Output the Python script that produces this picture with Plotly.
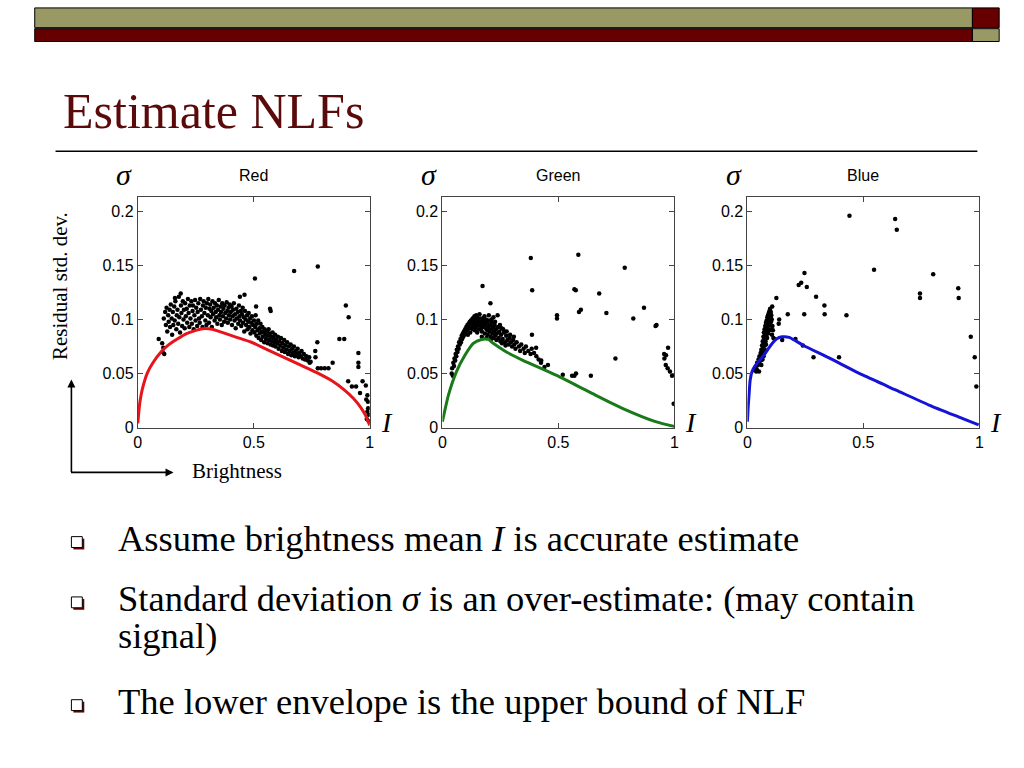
import plotly.graph_objects as go

W, H = 1024, 768

# ---------------- data ----------------
channels = ["Red", "Green", "Blue"]
curve_colors = ["#E8141B", "#1A7A1A", "#1414D8"]
x_ticks = [0, 0.5, 1]
x_tick_text = ["0", "0.5", "1"]
y_ticks = [0, 0.05, 0.1, 0.15, 0.2]
y_tick_text = ["0", "0.05", "0.1", "0.15", "0.2"]

red_curve_x = [0, 0.005, 0.01, 0.02, 0.04, 0.065, 0.1, 0.135, 0.17, 0.21, 0.25, 0.28,
               0.32, 0.35, 0.42, 0.49, 0.56, 0.63, 0.7, 0.78, 0.84, 0.89, 0.93, 0.96, 0.98, 1.0]
red_curve_y = [0.004, 0.016, 0.025, 0.036, 0.05, 0.06, 0.07, 0.077, 0.082, 0.087, 0.09, 0.0915,
               0.091, 0.089, 0.084, 0.079, 0.072, 0.065, 0.058, 0.05, 0.043, 0.035, 0.027, 0.019, 0.012, 0.002]

green_curve_x = [0, 0.026, 0.061, 0.097, 0.133, 0.169, 0.197, 0.219, 0.276, 0.347, 0.49,
                 0.633, 0.776, 0.919, 1.0]
green_curve_y = [0.0055, 0.030, 0.052, 0.067, 0.078, 0.0816, 0.0816, 0.078, 0.070, 0.0623, 0.0485,
                 0.033, 0.0178, 0.0055, 0.001]

blue_curve_x = [0, 0.003, 0.007, 0.012, 0.02, 0.036, 0.071, 0.1, 0.125, 0.15, 0.18, 0.21, 0.242, 0.356,
                0.499, 0.641, 0.783, 0.926, 0.997]
blue_curve_y = [0.0055, 0.018, 0.030, 0.044, 0.052, 0.058, 0.067, 0.076, 0.082, 0.084, 0.0835, 0.080,
                0.076, 0.064, 0.0485, 0.0347, 0.0209, 0.0086, 0.0025]

red_dots = [
    (0.112, 0.101), (0.118, 0.107), (0.121, 0.095), (0.124, 0.111), (0.127, 0.089), (0.131, 0.104),
    (0.133, 0.098), (0.137, 0.109), (0.139, 0.093), (0.142, 0.114), (0.146, 0.101), (0.148, 0.086),
    (0.151, 0.107), (0.153, 0.095), (0.157, 0.112), (0.159, 0.099), (0.162, 0.117), (0.166, 0.091),
    (0.168, 0.104), (0.171, 0.109), (0.174, 0.096), (0.177, 0.121), (0.179, 0.102), (0.182, 0.088),
    (0.186, 0.113), (0.188, 0.106), (0.191, 0.094), (0.194, 0.117), (0.197, 0.100), (0.199, 0.109),
    (0.202, 0.092), (0.204, 0.115), (0.207, 0.103), (0.211, 0.110), (0.213, 0.097), (0.216, 0.119),
    (0.219, 0.106), (0.222, 0.093), (0.224, 0.113), (0.227, 0.101), (0.231, 0.117), (0.233, 0.096),
    (0.236, 0.108), (0.238, 0.113), (0.241, 0.091), (0.244, 0.104), (0.247, 0.118), (0.249, 0.099),
    (0.252, 0.111), (0.256, 0.094), (0.258, 0.107), (0.261, 0.115), (0.264, 0.101), (0.267, 0.097),
    (0.269, 0.119), (0.272, 0.109), (0.276, 0.103), (0.279, 0.093), (0.281, 0.113), (0.284, 0.117),
    (0.287, 0.106), (0.291, 0.099), (0.293, 0.111), (0.296, 0.095), (0.298, 0.115),
    (0.302, 0.104), (0.304, 0.119), (0.307, 0.097), (0.309, 0.110), (0.312, 0.114), (0.314, 0.102),
    (0.317, 0.108), (0.319, 0.093), (0.322, 0.117), (0.324, 0.105), (0.327, 0.111), (0.331, 0.099),
    (0.333, 0.115), (0.336, 0.107), (0.338, 0.102), (0.341, 0.113), (0.343, 0.096), (0.346, 0.109),
    (0.349, 0.118), (0.352, 0.104), (0.354, 0.100), (0.357, 0.112), (0.359, 0.107), (0.362, 0.095),
    (0.364, 0.115), (0.367, 0.103), (0.369, 0.110), (0.372, 0.098), (0.374, 0.113), (0.377, 0.106),
    (0.381, 0.101), (0.383, 0.116), (0.386, 0.108), (0.388, 0.097), (0.391, 0.111), (0.393, 0.104),
    (0.396, 0.114), (0.398, 0.100),
    (0.401, 0.107), (0.404, 0.112), (0.406, 0.095), (0.409, 0.103), (0.411, 0.109), (0.414, 0.115),
    (0.417, 0.099), (0.419, 0.105), (0.422, 0.092), (0.425, 0.110), (0.427, 0.101), (0.431, 0.107),
    (0.433, 0.096), (0.436, 0.113), (0.438, 0.103), (0.441, 0.099), (0.444, 0.108), (0.446, 0.094),
    (0.449, 0.105), (0.452, 0.111), (0.454, 0.097), (0.457, 0.102), (0.459, 0.089), (0.462, 0.108),
    (0.465, 0.100), (0.467, 0.095), (0.471, 0.104), (0.473, 0.091), (0.476, 0.098), (0.478, 0.106),
    (0.481, 0.093), (0.484, 0.101), (0.486, 0.087), (0.489, 0.097), (0.492, 0.103), (0.494, 0.090),
    (0.497, 0.095),
    (0.501, 0.099), (0.503, 0.088), (0.506, 0.093), (0.508, 0.104), (0.511, 0.085), (0.513, 0.096),
    (0.516, 0.090), (0.519, 0.099), (0.521, 0.083), (0.524, 0.092), (0.526, 0.087), (0.529, 0.096),
    (0.532, 0.081), (0.534, 0.089), (0.537, 0.093), (0.539, 0.084), (0.542, 0.088), (0.545, 0.079),
    (0.547, 0.091), (0.551, 0.086), (0.553, 0.082), (0.556, 0.089), (0.559, 0.078), (0.561, 0.085),
    (0.564, 0.091), (0.567, 0.081), (0.569, 0.087), (0.572, 0.077), (0.575, 0.084), (0.578, 0.080),
    (0.581, 0.088), (0.583, 0.076), (0.586, 0.083), (0.589, 0.079), (0.592, 0.086), (0.594, 0.075),
    (0.597, 0.081),
    (0.601, 0.078), (0.604, 0.084), (0.607, 0.073), (0.611, 0.080), (0.614, 0.076), (0.617, 0.083),
    (0.621, 0.071), (0.624, 0.078), (0.627, 0.074), (0.631, 0.081), (0.634, 0.070), (0.637, 0.076),
    (0.641, 0.072), (0.644, 0.079), (0.648, 0.068), (0.651, 0.075), (0.655, 0.071), (0.659, 0.077),
    (0.662, 0.067), (0.666, 0.073), (0.669, 0.069), (0.673, 0.075), (0.677, 0.066), (0.681, 0.071),
    (0.684, 0.068), (0.689, 0.073), (0.693, 0.065), (0.697, 0.069), (0.702, 0.066), (0.706, 0.071),
    (0.711, 0.064), (0.716, 0.068), (0.721, 0.063), (0.727, 0.066), (0.733, 0.062), (0.739, 0.065),
    (0.745, 0.061),
    (0.09, 0.082), (0.105, 0.078), (0.107, 0.070), (0.11, 0.074), (0.114, 0.068),
    (0.51, 0.112), (0.57, 0.110), (0.573, 0.108), (0.44, 0.121), (0.46, 0.123), (0.185, 0.124),
    (0.16, 0.120), (0.505, 0.138), (0.674, 0.145), (0.776, 0.149),
    (0.897, 0.113), (0.909, 0.102), (0.869, 0.082), (0.89, 0.082), (0.774, 0.079), (0.765, 0.071),
    (0.766, 0.065), (0.776, 0.055), (0.79, 0.055), (0.806, 0.055), (0.822, 0.055), (0.84, 0.060),
    (0.741, 0.060), (0.907, 0.043), (0.923, 0.038), (0.941, 0.038), (0.958, 0.032), (0.951, 0.069),
    (0.951, 0.060), (0.951, 0.056), (0.969, 0.043), (0.983, 0.039), (0.99, 0.030), (0.992, 0.024),
    (0.993, 0.018), (0.995, 0.012), (0.996, 0.006), (0.99, 0.015), (0.987, 0.008), (0.985, 0.026),
]

green_dots = [
    (0.04, 0.050), (0.042, 0.055), (0.045, 0.048), (0.047, 0.060), (0.05, 0.057), (0.052, 0.064),
    (0.055, 0.062), (0.057, 0.068), (0.06, 0.066), (0.062, 0.072), (0.065, 0.070), (0.067, 0.075),
    (0.07, 0.073), (0.072, 0.079), (0.075, 0.077), (0.078, 0.082), (0.08, 0.079), (0.083, 0.085),
    (0.085, 0.082), (0.088, 0.087), (0.09, 0.084), (0.093, 0.089), (0.095, 0.086), (0.098, 0.091),
    (0.1, 0.088), (0.103, 0.093), (0.105, 0.090), (0.108, 0.095), (0.11, 0.091), (0.113, 0.096),
    (0.115, 0.093), (0.118, 0.098), (0.12, 0.094), (0.123, 0.099), (0.125, 0.092), (0.128, 0.097),
    (0.13, 0.101), (0.133, 0.094), (0.135, 0.099), (0.138, 0.103), (0.14, 0.096), (0.143, 0.100),
    (0.145, 0.093), (0.148, 0.098), (0.15, 0.102), (0.153, 0.095), (0.155, 0.099), (0.158, 0.091),
    (0.16, 0.097), (0.163, 0.101), (0.165, 0.094), (0.168, 0.099), (0.17, 0.089), (0.173, 0.096),
    (0.175, 0.101), (0.178, 0.093), (0.18, 0.098), (0.183, 0.087), (0.185, 0.095), (0.188, 0.100),
    (0.19, 0.091), (0.193, 0.097), (0.195, 0.086), (0.198, 0.093), (0.2, 0.099), (0.203, 0.089),
    (0.205, 0.095), (0.208, 0.084), (0.21, 0.091), (0.213, 0.097), (0.215, 0.087), (0.218, 0.093),
    (0.22, 0.083), (0.223, 0.089), (0.225, 0.095), (0.228, 0.085), (0.23, 0.091), (0.233, 0.081),
    (0.235, 0.087), (0.238, 0.104), (0.24, 0.093), (0.243, 0.083), (0.245, 0.089), (0.25, 0.080),
    (0.253, 0.086), (0.255, 0.092), (0.26, 0.082), (0.265, 0.088), (0.27, 0.079), (0.275, 0.085),
    (0.28, 0.081), (0.285, 0.077), (0.29, 0.083), (0.295, 0.079), (0.3, 0.075), (0.305, 0.081),
    (0.31, 0.077), (0.315, 0.073), (0.32, 0.079), (0.33, 0.075), (0.335, 0.071), (0.34, 0.077),
    (0.35, 0.073), (0.355, 0.069), (0.36, 0.075), (0.37, 0.071), (0.38, 0.068), (0.385, 0.073),
    (0.395, 0.069), (0.405, 0.066), (0.415, 0.063), (0.425, 0.060), (0.44, 0.056), (0.455, 0.058),
    (0.15, 0.088), (0.17, 0.084), (0.19, 0.083), (0.21, 0.082), (0.16, 0.105), (0.2, 0.104),
    (0.22, 0.102), (0.14, 0.090), (0.12, 0.088), (0.11, 0.086), (0.132, 0.091), (0.146, 0.104),
    (0.167, 0.092), (0.181, 0.103), (0.196, 0.090), (0.212, 0.100), (0.227, 0.098), (0.248, 0.095),
    (0.262, 0.091), (0.277, 0.089), (0.292, 0.086), (0.308, 0.084), (0.257, 0.078), (0.272, 0.076),
    (0.173, 0.131), (0.207, 0.115), (0.381, 0.157), (0.387, 0.127), (0.386, 0.086), (0.404, 0.074),
    (0.426, 0.062), (0.494, 0.104), (0.494, 0.101), (0.519, 0.049), (0.559, 0.048), (0.569, 0.048),
    (0.576, 0.050), (0.569, 0.128), (0.575, 0.127), (0.586, 0.160), (0.589, 0.107), (0.597, 0.109),
    (0.64, 0.048), (0.676, 0.124), (0.707, 0.106), (0.746, 0.064), (0.786, 0.148), (0.823, 0.101),
    (0.869, 0.111), (0.919, 0.094), (0.923, 0.095), (0.956, 0.068), (0.964, 0.067), (0.973, 0.074),
    (0.957, 0.064), (0.963, 0.058), (0.971, 0.055), (0.981, 0.052), (0.99, 0.048), (0.997, 0.022),
]

blue_dots = [
    (0.03, 0.053), (0.035, 0.056), (0.04, 0.054), (0.042, 0.060), (0.045, 0.058), (0.048, 0.063),
    (0.05, 0.060), (0.052, 0.066), (0.055, 0.064), (0.057, 0.069), (0.058, 0.062), (0.06, 0.072),
    (0.062, 0.067), (0.063, 0.076), (0.065, 0.071), (0.066, 0.080), (0.068, 0.074), (0.069, 0.084),
    (0.07, 0.078), (0.071, 0.088), (0.072, 0.069), (0.073, 0.082), (0.074, 0.091), (0.075, 0.076),
    (0.076, 0.086), (0.077, 0.094), (0.078, 0.080), (0.079, 0.090), (0.08, 0.097), (0.081, 0.084),
    (0.082, 0.093), (0.083, 0.099), (0.084, 0.088), (0.085, 0.096), (0.086, 0.102), (0.087, 0.091),
    (0.088, 0.098), (0.089, 0.104), (0.09, 0.094), (0.091, 0.101), (0.092, 0.106), (0.093, 0.097),
    (0.094, 0.103), (0.095, 0.108), (0.096, 0.099), (0.097, 0.105), (0.098, 0.110), (0.099, 0.095),
    (0.1, 0.102), (0.101, 0.107), (0.102, 0.098), (0.103, 0.104), (0.104, 0.091), (0.105, 0.100),
    (0.106, 0.086), (0.107, 0.112), (0.108, 0.094), (0.11, 0.090), (0.112, 0.083), (0.06, 0.058),
    (0.065, 0.063), (0.07, 0.066), (0.075, 0.072), (0.08, 0.077), (0.085, 0.083), (0.09, 0.087),
    (0.095, 0.090), (0.05, 0.052), (0.038, 0.052),
    (0.125, 0.120), (0.137, 0.100), (0.135, 0.096), (0.117, 0.082), (0.15, 0.081), (0.174, 0.105),
    (0.207, 0.082), (0.221, 0.132), (0.232, 0.134), (0.246, 0.143), (0.256, 0.130), (0.245, 0.105),
    (0.239, 0.076), (0.285, 0.065), (0.296, 0.121), (0.332, 0.113), (0.333, 0.105), (0.395, 0.065),
    (0.427, 0.104), (0.44, 0.196), (0.546, 0.146), (0.637, 0.193), (0.644, 0.183), (0.744, 0.124),
    (0.744, 0.120), (0.801, 0.142), (0.909, 0.129), (0.911, 0.120), (0.963, 0.084), (0.98, 0.065),
    (0.987, 0.038),
]

curves_x = [red_curve_x, green_curve_x, blue_curve_x]
curves_y = [red_curve_y, green_curve_y, blue_curve_y]
dots = [red_dots, green_dots, blue_dots]

bullets = [
    "Assume brightness mean <i>I</i> is accurate estimate",
    "Standard deviation <i>σ</i> is an over-estimate: (may contain",
    "signal)",
    "The lower envelope is the upper bound of NLF",
]

# ---------------- layout helpers (pixel -> paper) ----------------
def X(p):
    return p / W


def Y(p):
    return 1 - p / H


SERIF = "Liberation Serif, Times New Roman, serif"
SANS = "Liberation Sans, Arial, sans-serif"

panel_left = [135, 442.3, 750]
panel_w = 234
panel_top, panel_bottom = 199.3, 432.7
y_top_value = 0.2134

fig = go.Figure()
layout = dict(
    autosize=True, margin=dict(l=0, r=0, t=0, b=0),
    paper_bgcolor="white", plot_bgcolor="white", showlegend=False,
)

shapes = []
annotations = []

for i in range(3):
    sx = "" if i == 0 else str(i + 1)
    xs = [p[0] for p in dots[i]]
    ys = [p[1] for p in dots[i]]
    fig.add_trace(go.Scatter(x=xs, y=ys, mode="markers", xaxis="x" + sx, yaxis="y" + sx,
                             marker=dict(color="black", size=4.5, line=dict(width=0))))
    fig.add_trace(go.Scatter(x=curves_x[i], y=curves_y[i], mode="lines", xaxis="x" + sx, yaxis="y" + sx,
                             line=dict(color=curve_colors[i], width=3, shape="spline", smoothing=0.6)))
    axcommon = dict(showline=True, linecolor="#444", linewidth=1, mirror="ticks", ticks="inside",
                    ticklen=5, tickcolor="#444", showgrid=False, zeroline=False,
                    tickfont=dict(family=SANS, size=16, color="black"))
    layout["xaxis" + sx] = dict(domain=[X(panel_left[i]), X(panel_left[i] + panel_w)], range=[0, 1],
                                tickvals=x_ticks, ticktext=x_tick_text, anchor="y" + sx, **axcommon)
    layout["yaxis" + sx] = dict(domain=[Y(panel_bottom), Y(panel_top)], range=[0, y_top_value],
                                tickvals=y_ticks, ticktext=y_tick_text, anchor="x" + sx, **axcommon)
    cx = panel_left[i] + panel_w / 2
    annotations.append(dict(x=X(cx), y=Y(178), xref="paper", yref="paper", text=channels[i],
                            xanchor="center", yanchor="middle", showarrow=False,
                            font=dict(family=SANS, size=16, color="black")))
    annotations.append(dict(x=X(panel_left[i] - 14), y=Y(177), xref="paper", yref="paper", text="<i>σ</i>",
                            xanchor="center", yanchor="middle", showarrow=False,
                            font=dict(family=SERIF, size=30, color="black")))
    annotations.append(dict(x=X(panel_left[i] + panel_w + 17), y=Y(428), xref="paper", yref="paper",
                            text="<i>I</i>", xanchor="center", yanchor="middle", showarrow=False,
                            font=dict(family=SERIF, size=28, color="black")))

# header bars
def rect(x0, y0, x1, y1, fill, lw=1):
    shapes.append(dict(type="rect", xref="paper", yref="paper", x0=X(x0), x1=X(x1), y0=Y(y1), y1=Y(y0),
                       fillcolor=fill, line=dict(color="black", width=lw), layer="above"))

rect(31, 8, 977, 28, "#999966")
rect(31, 29, 977, 42, "#660000")
rect(977, 8, 1004, 28, "#660000")
rect(977, 29, 1004, 42, "#999966")

# title and rule
annotations.append(dict(x=X(58), y=Y(112), xref="paper", yref="paper", text="Estimate NLFs",
                        xanchor="left", yanchor="middle", showarrow=False,
                        font=dict(family=SERIF, size=50, color="#5A0A0A")))
shapes.append(dict(type="line", xref="paper", yref="paper", x0=X(52), x1=X(982), y0=Y(153), y1=Y(153),
                   line=dict(color="black", width=1.5)))

# axis description arrows
annotations.append(dict(x=X(68), y=Y(384), xref="paper", yref="paper", ax=0, ay=94, text="",
                        showarrow=True, arrowhead=2, arrowsize=1, arrowwidth=1.6, arrowcolor="black"))
annotations.append(dict(x=X(171), y=Y(478), xref="paper", yref="paper", ax=-104, ay=0, text="",
                        showarrow=True, arrowhead=2, arrowsize=1, arrowwidth=1.6, arrowcolor="black"))
annotations.append(dict(x=X(188), y=Y(477), xref="paper", yref="paper", text="Brightness",
                        xanchor="left", yanchor="middle", showarrow=False,
                        font=dict(family=SERIF, size=21, color="black")))
annotations.append(dict(x=X(56), y=Y(290), xref="paper", yref="paper", text="Residual std. dev.",
                        textangle=-90, xanchor="center", yanchor="middle", showarrow=False,
                        font=dict(family=SERIF, size=21, color="black")))

# bullets
bullet_y = [545, 606, 643, 710]
for k, txt in enumerate(bullets):
    annotations.append(dict(x=X(113), y=Y(bullet_y[k]), xref="paper", yref="paper", text=txt,
                            xanchor="left", yanchor="middle", showarrow=False,
                            font=dict(family=SERIF, size=36.5, color="black")))
    if txt != "signal)":
        by = bullet_y[k] + 3
        shapes.append(dict(type="rect", xref="paper", yref="paper", x0=X(70), x1=X(81), y0=Y(by + 8), y1=Y(by - 3),
                           fillcolor="#660000", line=dict(width=0), layer="above"))
        shapes.append(dict(type="rect", xref="paper", yref="paper", x0=X(68), x1=X(79), y0=Y(by + 6), y1=Y(by - 5),
                           fillcolor="white", line=dict(color="black", width=1), layer="above"))

layout["shapes"] = shapes
layout["annotations"] = annotations
fig.update_layout(**layout)
fig.write_html("out.html", default_width="100vw", default_height="100vh",
               config={"displayModeBar": False, "responsive": True},
               post_script="document.body.style.margin='0';document.body.style.overflow='hidden';"
                           "window.dispatchEvent(new Event('resize'));")
